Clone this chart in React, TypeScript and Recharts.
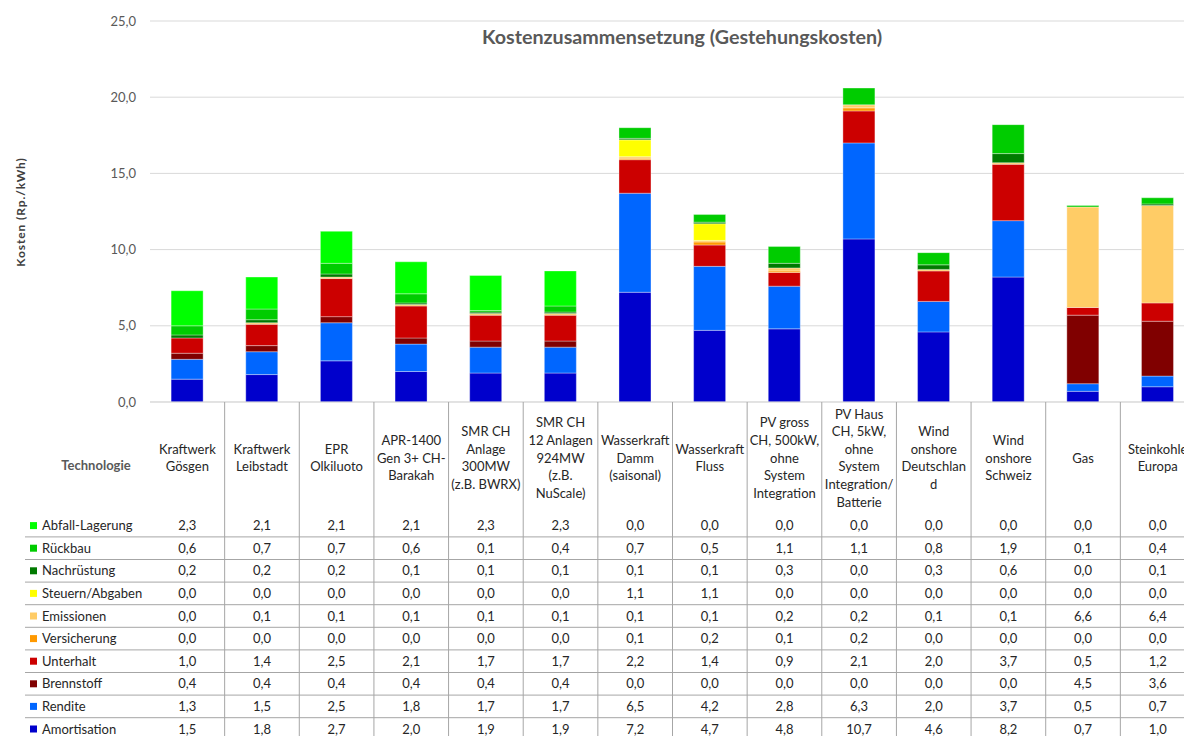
import { BarChart, Bar, XAxis, YAxis, CartesianGrid, Customized } from "recharts";

// Technology columns (line breaks as wrapped in the table header)
const technologies = [
  "Kraftwerk\nGösgen",
  "Kraftwerk\nLeibstadt",
  "EPR\nOlkiluoto",
  "APR-1400\nGen 3+ CH-\nBarakah",
  "SMR CH\nAnlage\n300MW\n(z.B. BWRX)",
  "SMR CH\n12 Anlagen\n924MW\n(z.B.\nNuScale)",
  "Wasserkraft\nDamm\n(saisonal)",
  "Wasserkraft\nFluss",
  "PV gross\nCH, 500kW,\nohne\nSystem\nIntegration",
  "PV Haus\nCH, 5kW,\nohne\nSystem\nIntegration/\nBatterie",
  "Wind\nonshore\nDeutschlan\nd",
  "Wind\nonshore\nSchweiz",
  "Gas",
  "Steinkohle\nEuropa",
];

// Cost components in Rp./kWh
const abfallLagerung = [2.3, 2.1, 2.1, 2.1, 2.3, 2.3, 0.0, 0.0, 0.0, 0.0, 0.0, 0.0, 0.0, 0.0];
const rueckbau = [0.6, 0.7, 0.7, 0.6, 0.1, 0.4, 0.7, 0.5, 1.1, 1.1, 0.8, 1.9, 0.1, 0.4];
const nachruestung = [0.2, 0.2, 0.2, 0.1, 0.1, 0.1, 0.1, 0.1, 0.3, 0.0, 0.3, 0.6, 0.0, 0.1];
const steuernAbgaben = [0.0, 0.0, 0.0, 0.0, 0.0, 0.0, 1.1, 1.1, 0.0, 0.0, 0.0, 0.0, 0.0, 0.0];
const emissionen = [0.0, 0.1, 0.1, 0.1, 0.1, 0.1, 0.1, 0.1, 0.2, 0.2, 0.1, 0.1, 6.6, 6.4];
const versicherung = [0.0, 0.0, 0.0, 0.0, 0.0, 0.0, 0.1, 0.2, 0.1, 0.2, 0.0, 0.0, 0.0, 0.0];
const unterhalt = [1.0, 1.4, 2.5, 2.1, 1.7, 1.7, 2.2, 1.4, 0.9, 2.1, 2.0, 3.7, 0.5, 1.2];
const brennstoff = [0.4, 0.4, 0.4, 0.4, 0.4, 0.4, 0.0, 0.0, 0.0, 0.0, 0.0, 0.0, 4.5, 3.6];
const rendite = [1.3, 1.5, 2.5, 1.8, 1.7, 1.7, 6.5, 4.2, 2.8, 6.3, 2.0, 3.7, 0.5, 0.7];
const amortisation = [1.5, 1.8, 2.7, 2.0, 1.9, 1.9, 7.2, 4.7, 4.8, 10.7, 4.6, 8.2, 0.7, 1.0];

const yTicks = [0, 5, 10, 15, 20, 25];

// table order, top row first (stack order is the reverse)
const series = [
  { key: "abfall", name: "Abfall-Lagerung", color: "#00FF00", values: abfallLagerung },
  { key: "rueckbau", name: "Rückbau", color: "#00CC00", values: rueckbau },
  { key: "nachruestung", name: "Nachrüstung", color: "#007A00", values: nachruestung },
  { key: "steuern", name: "Steuern/Abgaben", color: "#FFFF00", values: steuernAbgaben },
  { key: "emissionen", name: "Emissionen", color: "#FFCC66", values: emissionen },
  { key: "versicherung", name: "Versicherung", color: "#FF9900", values: versicherung },
  { key: "unterhalt", name: "Unterhalt", color: "#CC0000", values: unterhalt },
  { key: "brennstoff", name: "Brennstoff", color: "#800000", values: brennstoff },
  { key: "rendite", name: "Rendite", color: "#0066FF", values: rendite },
  { key: "amortisation", name: "Amortisation", color: "#0000CC", values: amortisation },
];

const data = technologies.map((name, i) => {
  const row: Record<string, string | number> = { name };
  series.forEach((s) => (row[s.key] = s.values[i]));
  return row;
});

const FONT = "Lato, 'Noto Sans', sans-serif";
const W = 1200;
const H = 736;
const PLOT_LEFT = 150;
const PLOT_RIGHT = 1195;
const AXIS_Y = 402;
const COL_W = (PLOT_RIGHT - PLOT_LEFT) / technologies.length;
const HEADER_MID = 458;
const LINE_H = 17.6;
const ROW_TOP = 514.3;
const ROW_H = 22.6;
const TABLE_LINE = "#a6a6a6";
const TEXT = "#262626";

const fmt = (v: number) => v.toFixed(1).replace(".", ",");

function TableColumn(props: any) {
  const { x, payload } = props;
  const i = payload.index ?? props.index;
  const lines = String(payload.value).split("\n");
  const top = HEADER_MID - ((lines.length - 1) * LINE_H) / 2;
  return (
    <g fontFamily={FONT} fontSize={13} fill={TEXT}>
      <line x1={x + COL_W / 2} x2={x + COL_W / 2} y1={AXIS_Y} y2={H} stroke={TABLE_LINE} />
      <text textAnchor="middle">
        {lines.map((l, k) => (
          <tspan key={k} x={x} y={top + k * LINE_H} dy="0.35em">
            {l}
          </tspan>
        ))}
      </text>
      {series.map((s, r) => (
        <text key={s.key} x={x} y={ROW_TOP + ROW_H * (r + 0.5)} dy="0.35em" textAnchor="middle">
          {fmt(s.values[i])}
        </text>
      ))}
    </g>
  );
}

function Decorations() {
  return (
    <g fontFamily={FONT}>
      <text x={682} y={37} dy="0.35em" textAnchor="middle" fontSize={19.7} fontWeight={700} fill="#595959">
        Kostenzusammensetzung (Gestehungskosten)
      </text>
      <text
        x={21}
        y={212}
        dy="0.35em"
        textAnchor="middle"
        fontSize={12}
        letterSpacing={0.9}
        fontWeight={700}
        fill="#404040"
        transform="rotate(-90 21 212)"
      >
        Kosten (Rp./kWh)
      </text>
      <text x={96} y={465} dy="0.35em" textAnchor="middle" fontSize={13} fontWeight={700} fill="#595959">
        Technologie
      </text>
      {series.slice(0, -1).map((s, r) => (
        <line
          key={s.key}
          x1={25}
          x2={W}
          y1={ROW_TOP + ROW_H * (r + 1)}
          y2={ROW_TOP + ROW_H * (r + 1)}
          stroke={TABLE_LINE}
        />
      ))}
      {series.map((s, r) => {
        const cy = ROW_TOP + ROW_H * (r + 0.5);
        return (
          <g key={s.key}>
            <rect x={30} y={cy - 3.5} width={7} height={7} fill={s.color} />
            <text x={42} y={cy} dy="0.35em" fontSize={13} fill={TEXT}>
              {s.name}
            </text>
          </g>
        );
      })}
    </g>
  );
}

export default function App() {
  return (
    <div
      style={{
        position: "fixed",
        left: 0,
        top: 0,
        width: 1184,
        height: H,
        overflow: "hidden",
        background: "#fff",
      }}
    >
      <BarChart
        width={W}
        height={H}
        data={data}
        margin={{ top: 21, right: W - PLOT_RIGHT, bottom: 0, left: 0 }}
        barCategoryGap="28.3%"
      >
        <CartesianGrid vertical={false} stroke="#d9d9d9" />
        <YAxis
          width={PLOT_LEFT}
          domain={[0, 25]}
          ticks={yTicks}
          tickFormatter={fmt}
          axisLine={false}
          tickLine={false}
          tickSize={0}
          tickMargin={14}
          tick={{ fill: "#595959", fontSize: 13, fontFamily: FONT }}
        />
        <XAxis
          dataKey="name"
          height={H - AXIS_Y}
          interval={0}
          tickLine={false}
          tickSize={0}
          tickMargin={0}
          axisLine={{ stroke: "#d9d9d9" }}
          tick={<TableColumn />}
        />
        {[...series].reverse().map((s) => (
          <Bar
            key={s.key}
            dataKey={s.key}
            name={s.name}
            stackId="cost"
            fill={s.color}
            stroke="rgba(255,255,255,0.45)"
            strokeWidth={0.75}
            isAnimationActive={false}
          />
        ))}
        <Customized component={Decorations} />
      </BarChart>
    </div>
  );
}
